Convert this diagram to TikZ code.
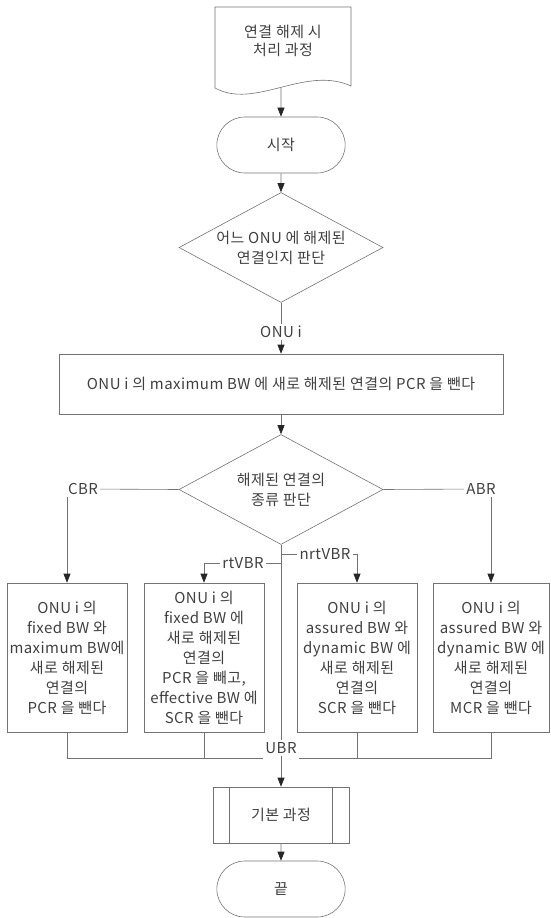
\documentclass[tikz,border=0pt]{standalone}
\usepackage{fontspec}
\setmainfont{Noto Sans CJK KR}[LetterSpace=3]
\usetikzlibrary{shapes.geometric,shapes.misc,arrows.meta}
\tikzset{
    base/.style={draw=black!55, line width=0.6pt, text=black!75, font=\fontsize{15}{20}\selectfont, align=center},
    terminal/.style={base, rounded rectangle, minimum width=135pt, minimum height=56pt},
    decision/.style={base, diamond, aspect=1.85, inner sep=0pt, minimum width=204pt, minimum height=110pt},
    stepbox/.style={base, rectangle, minimum width=120pt, minimum height=149pt, inner sep=1pt},
    tag/.style={text=black!75, font=\fontsize{15}{18}\selectfont, align=center, inner sep=2pt},
    line/.style={draw=black!55, line width=0.6pt},
    flow/.style={line, -{Triangle[length=9pt,width=7pt,color=black!85]}}
}

\begin{document}
\begin{tikzpicture}[x=1pt,y=-1pt]
    \useasboundingbox (0,0) rectangle (550,918);
    % document shape
    \draw[line] (215,7) -- (351,7) -- (351,86) .. controls (305,65) and (255,110) .. (215,88) -- cycle;
    \coordinate (docBot) at (281,87.4);
    \node[tag] (doc) at (283,41) {연결 해제 시\\처리 과정};

    \node[terminal] (start) at (281,145) {시작};
    \node[decision] (whichOnu) at (281,247.5) {어느 ONU 에 해제된\\연결인지 판단};
    \node[tag] (onuI) at (281,332) {ONU i};
    \node[base, rectangle, minimum width=444pt, minimum height=60pt] (subMax) at (281,384)
        {ONU i 의 maximum BW 에 새로 해제된 연결의 PCR 을 뺀다};
    \node[decision] (kind) at (281,489.5) {해제된 연결의\\종류 판단};

    \node[tag] (cbr) at (83,489) {CBR};
    \node[tag] (abr) at (481,489) {ABR};
    \node[tag] (rt) at (243,563) {rtVBR};
    \node[tag] (nrt) at (325,554) {nrtVBR};

    \node[stepbox] (cbrBox) at (67,657.5) {ONU i 의\\fixed BW 와\\maximum BW에\\새로 해제된\\연결의\\PCR 을 뺀다};
    \node[stepbox] (rtBox) at (204,657.5) {ONU i 의\\fixed BW 에\\새로 해제된\\연결의\\PCR 을 빼고,\\effective BW 에\\SCR 을 뺀다};
    \node[stepbox] (nrtBox) at (357,657.5) {ONU i 의\\assured BW 와\\dynamic BW 에\\새로 해제된\\연결의\\SCR 을 뺀다};
    \node[stepbox, minimum width=116pt] (abrBox) at (491,657.5) {ONU i 의\\assured BW 와\\dynamic BW 에\\새로 해제된\\연결의\\MCR 을 뺀다};

    \node[tag] (ubr) at (281,748) {UBR};
    \coordinate (join) at (281,758);

    \node[base, rectangle, minimum width=136pt, minimum height=56pt] (basic) at (281,815) {기본 과정};
    \draw[line] ([xshift=17pt]basic.north west) -- ([xshift=17pt]basic.south west);
    \draw[line] ([xshift=-17pt]basic.north east) -- ([xshift=-17pt]basic.south east);
    \node[terminal] (finish) at (281,889) {끝};

    \draw[flow] (docBot) -- (start);
    \draw[flow] (start) -- (whichOnu);
    \draw[line] (whichOnu.south) -- (onuI);
    \draw[flow] (onuI) -- (subMax);
    \draw[flow] (subMax) -- (kind);

    \draw[line] (kind.west) -- (cbr);
    \draw[flow] (cbr.south -| cbrBox) -- (cbrBox);
    \draw[line] (kind.east) -- (abr);
    \draw[flow] (abr.south -| abrBox) -- (abrBox);
    \draw[line] (kind.south) -- (ubr);
    \draw[line] (rt.east) -- (rt.east -| kind.south);
    \draw[flow] (rt.west) -| (rtBox);
    \draw[line] (nrt.west -| kind.south) -- (nrt.west);
    \draw[flow] (nrt.east) -| (nrtBox);

    \draw[line] (cbrBox.south) |- (join -| ubr.west);
    \draw[line] (rtBox.south) -- (rtBox.south |- join);
    \draw[line] (nrtBox.south) -- (nrtBox.south |- join);
    \draw[line] (abrBox.south) |- (join -| ubr.east);
    \draw[flow] (ubr) -- (basic);
    \draw[flow] (basic) -- (finish);
\end{tikzpicture}
\end{document}
